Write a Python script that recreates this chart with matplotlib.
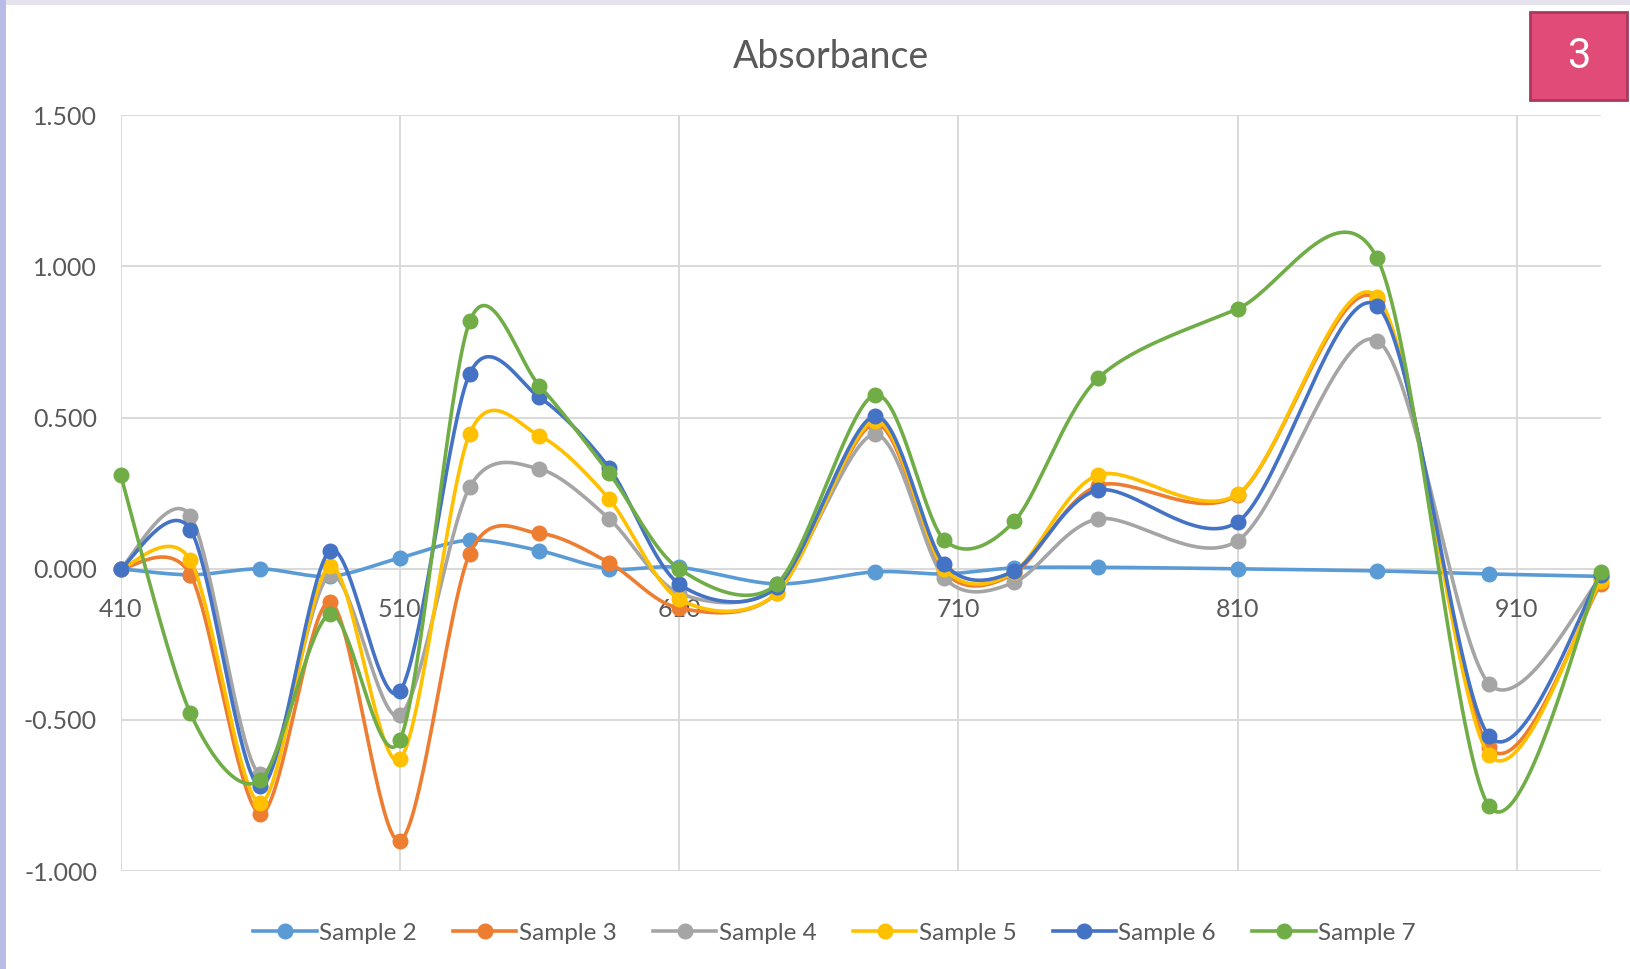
import numpy as np
import matplotlib.pyplot as plt
from matplotlib.lines import Line2D
from matplotlib.patches import Rectangle

plt.rcParams['font.family'] = ['Lato', 'DejaVu Sans']

# wavelengths (nm)
wavelength = [410, 435, 460, 485, 510, 535, 560, 585, 610, 645, 680, 705, 730, 760, 810, 860, 900, 940]

sample_2 = [0.000, -0.020, 0.000, -0.025, 0.036, 0.095, 0.060, 0.000, 0.005, -0.050, -0.010, -0.017, 0.003, 0.005, 0.000, -0.007, -0.017, -0.025]
sample_3 = [0.000, -0.020, -0.810, -0.110, -0.900, 0.050, 0.117, 0.020, -0.130, -0.080, 0.480, -0.010, -0.015, 0.275, 0.245, 0.890, -0.590, -0.050]
sample_4 = [0.000, 0.175, -0.680, -0.020, -0.485, 0.270, 0.330, 0.165, -0.080, -0.060, 0.445, -0.030, -0.045, 0.165, 0.093, 0.755, -0.380, -0.030]
sample_5 = [0.000, 0.028, -0.775, 0.010, -0.630, 0.447, 0.440, 0.230, -0.100, -0.080, 0.490, 0.000, -0.010, 0.310, 0.247, 0.900, -0.615, -0.040]
sample_6 = [0.000, 0.130, -0.720, 0.060, -0.405, 0.645, 0.567, 0.333, -0.050, -0.060, 0.505, 0.016, -0.007, 0.260, 0.155, 0.870, -0.553, -0.020]
sample_7 = [0.310, -0.478, -0.700, -0.150, -0.567, 0.818, 0.605, 0.316, 0.000, -0.050, 0.575, 0.095, 0.157, 0.630, 0.860, 1.027, -0.785, -0.010]

names = ['Sample 2', 'Sample 3', 'Sample 4', 'Sample 5', 'Sample 6', 'Sample 7']
series = [sample_2, sample_3, sample_4, sample_5, sample_6, sample_7]
colors = ['#5B9BD5', '#ED7D31', '#A5A5A5', '#FFC000', '#4472C4', '#70AD47']


def smooth(xs, ys, n=40, k=0.15):
    # spreadsheet-style smoothed line: cubic Bezier through every point
    pts = np.column_stack([xs, ys]).astype(float)
    P = np.vstack([pts[0], pts, pts[-1]])
    t = np.linspace(0, 1, n)[:, None]
    out = []
    for i in range(1, len(P) - 2):
        p0, p1, p2, p3 = P[i - 1], P[i], P[i + 1], P[i + 2]
        c1 = p1 + (p2 - p0) * k
        c2 = p2 - (p3 - p1) * k
        seg = (1 - t)**3 * p1 + 3 * (1 - t)**2 * t * c1 + 3 * (1 - t) * t**2 * c2 + t**3 * p2
        out.append(seg if i == 1 else seg[1:])
    out = np.vstack(out)
    return out[:, 0], out[:, 1]


fig = plt.figure(figsize=(16.3, 9.69), dpi=100)
ax = fig.add_axes([0.074, 0.101, 0.908, 0.780])

for k, (ys, c) in enumerate(zip(series, colors)):
    sx, sy = smooth(wavelength, ys)
    ax.plot(sx, sy, color=c, lw=2.6, zorder=3 + k, solid_capstyle='round')
    ax.plot(wavelength, ys, 'o', color=c, ms=10.5, mec=c, zorder=3 + k, clip_on=False)

ax.set_xlim(410, 940)
ax.set_ylim(-1.0, 1.5)
ax.set_xticks([410, 510, 610, 710, 810, 910])
ax.set_yticks(np.arange(-1.0, 1.51, 0.5))
ax.set_yticklabels([f'{v:.3f}' for v in np.arange(-1.0, 1.51, 0.5)])
ax.grid(True, color='#D9D9D9', lw=1.4, zorder=0)
ax.set_axisbelow(True)
for s in ax.spines.values():
    s.set_visible(False)
ax.spines['bottom'].set_position(('data', 0))
ax.tick_params(axis='both', length=0, labelsize=18, labelcolor='#595959')
ax.tick_params(axis='x', pad=21)
ax.tick_params(axis='y', pad=17)

fig.text(0.51, 0.941, 'Absorbance', ha='center', va='center', fontsize=27, color='#595959')

handles = [Line2D([0], [0], color=c, lw=2.6, marker='o', ms=10.5) for c in colors]
fig.legend(handles, names, loc='center', bbox_to_anchor=(0.512, 0.037), ncol=6,
           frameon=False, fontsize=17.5, labelcolor='#595959', handlelength=2.6,
           handletextpad=0.1, columnspacing=1.5)

# page number badge and page edges
fig.patches.append(Rectangle((1530 / 1630, 1 - 100 / 969), 97 / 1630, 88 / 969,
                             transform=fig.transFigure, facecolor='#E04B78',
                             edgecolor='#A8385C', lw=2))
fig.text(1578.5 / 1630, 1 - 56 / 969, '3', ha='center', va='center', fontsize=30,
         color='white', family='Roboto')
fig.patches.append(Rectangle((0, 1 - 5 / 969), 1, 5 / 969, transform=fig.transFigure,
                             facecolor='#E6E3EF', edgecolor='none'))
fig.patches.append(Rectangle((0, 0), 6 / 1630, 1, transform=fig.transFigure,
                             facecolor='#B8BCE6', edgecolor='none'))

fig.savefig('out.png', dpi=100)
